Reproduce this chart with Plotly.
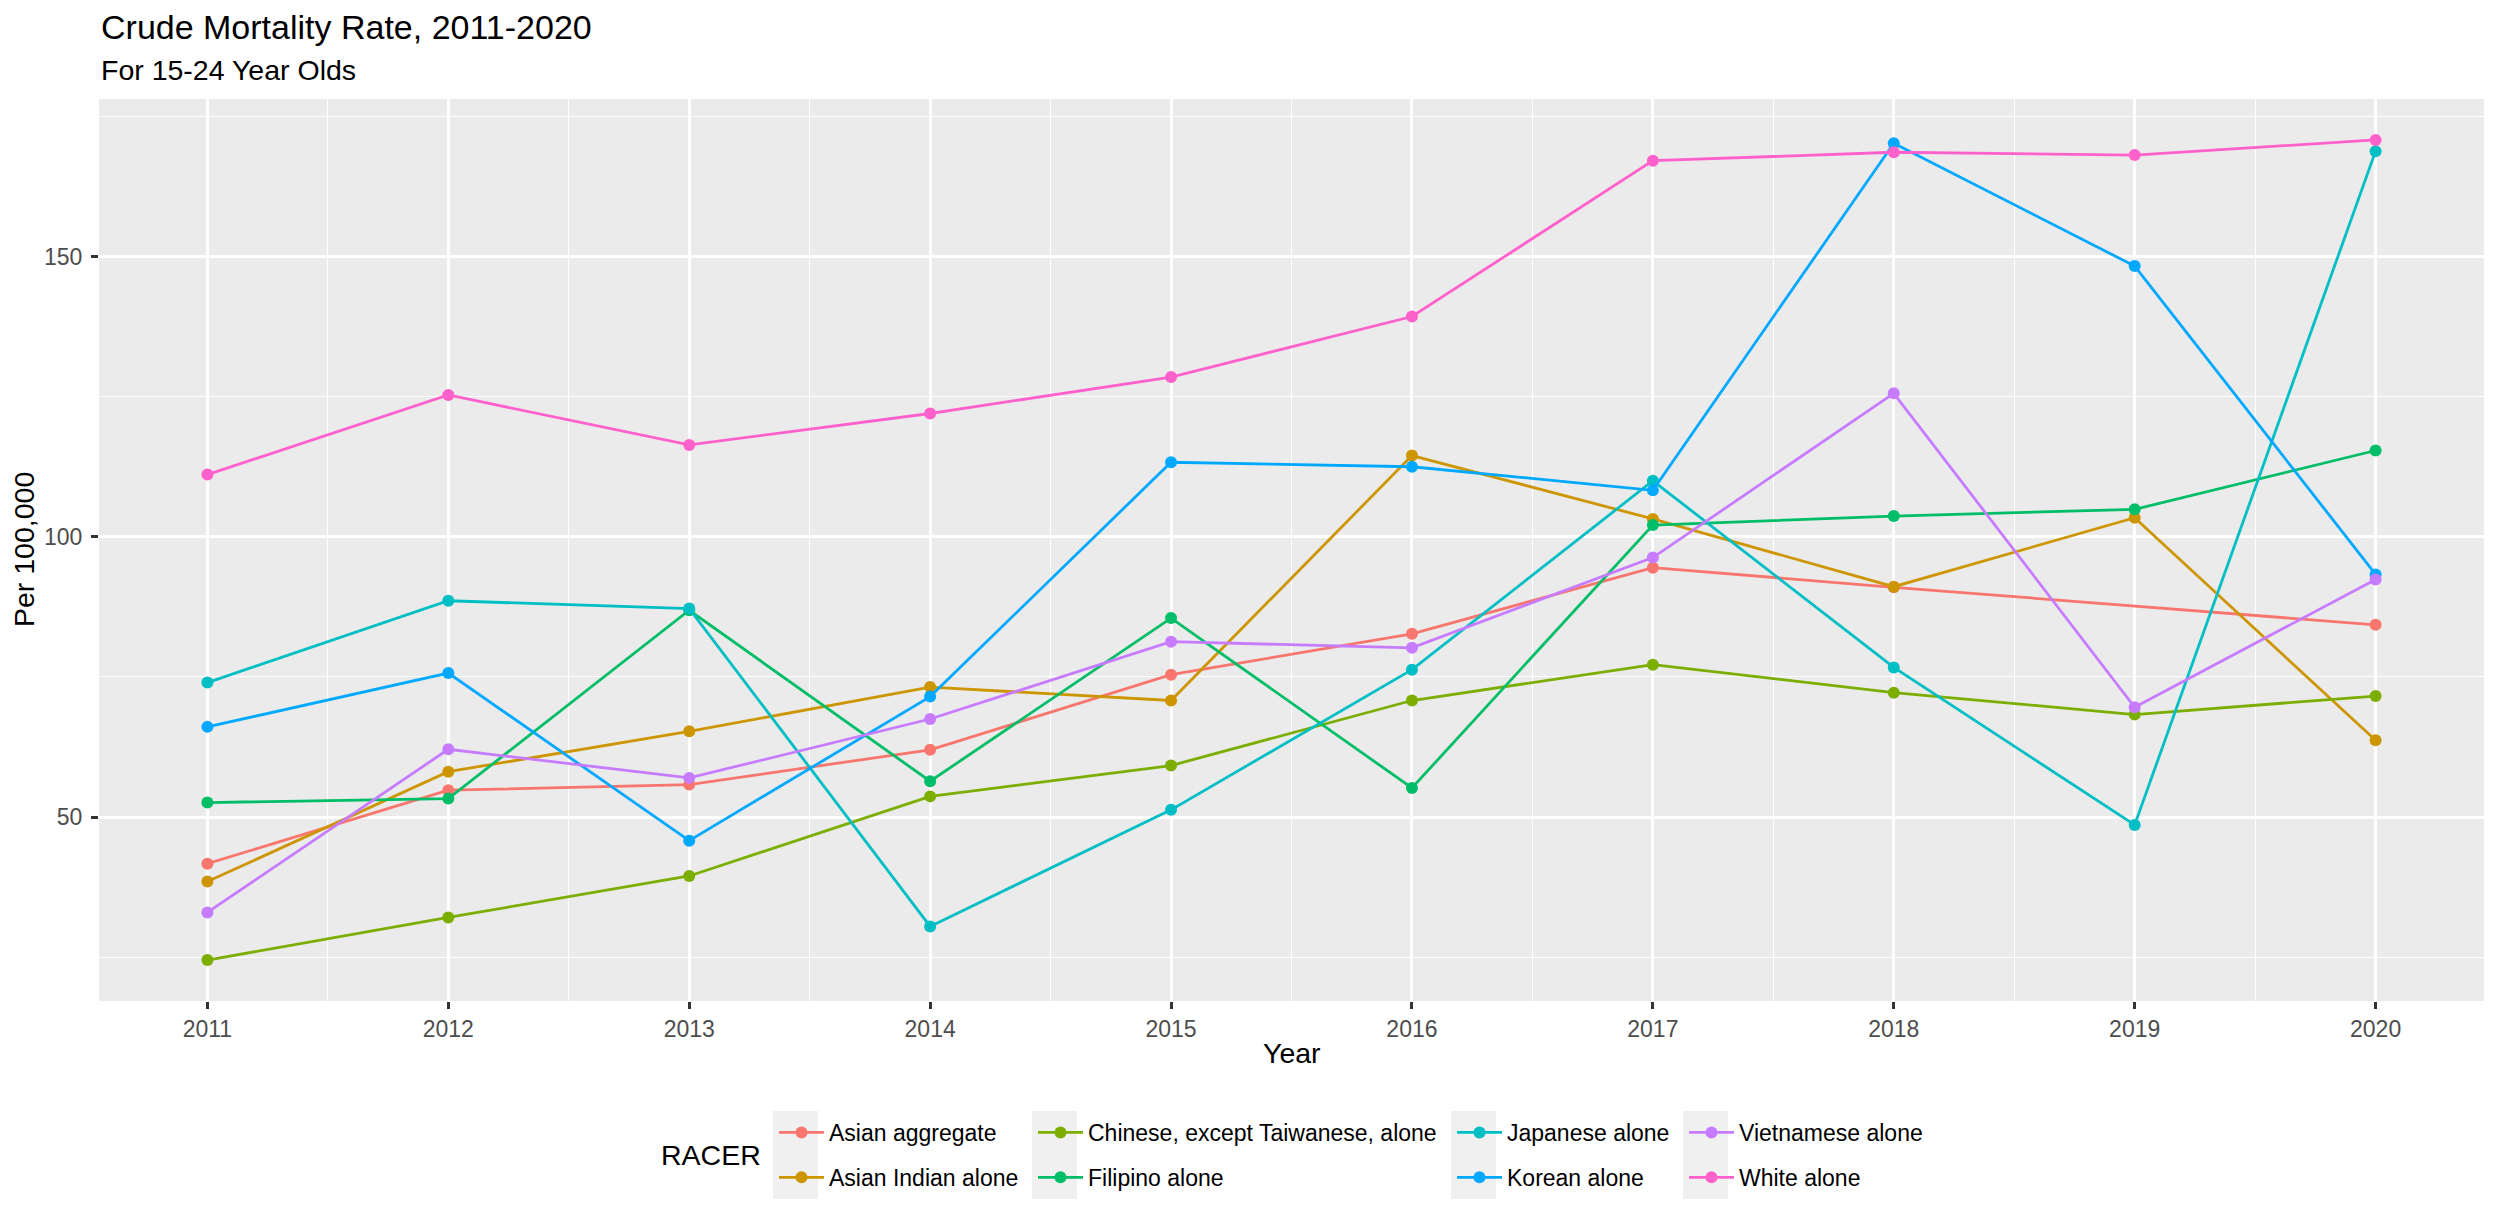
import plotly.graph_objects as go

# ---------------- data ----------------
years = [2011, 2012, 2013, 2014, 2015, 2016, 2017, 2018, 2019, 2020]

asian_aggregate = [41.7, 54.8, 55.8, 62.0, 75.4, 82.7, 94.5, 91.0, None, 84.3]
asian_indian = [38.5, 58.1, 65.3, 73.2, 70.8, 114.5, 103.2, 91.1, 103.4, 63.7]
chinese = [24.5, 32.1, 39.5, 53.7, 59.2, 70.8, 77.2, 72.2, 68.3, 71.6]
filipino = [52.6, 53.3, 86.9, 56.4, 85.5, 55.2, 102.1, 103.7, 104.9, 115.4]
japanese = [74.0, 88.6, 87.2, 30.5, 51.3, 76.3, 110.0, 76.7, 48.6, 168.8]
korean = [66.1, 75.7, 45.8, 71.5, 113.3, 112.5, 108.3, 170.2, 148.3, 93.3]
vietnamese = [33.0, 62.1, 57.0, 67.5, 81.3, 80.2, 96.3, 125.6, 69.6, 92.4]
white = [111.1, 125.3, 116.4, 122.0, 128.5, 139.3, 167.1, 168.6, 168.1, 170.8]

series_names = ["Asian aggregate", "Asian Indian alone",
                "Chinese, except Taiwanese, alone", "Filipino alone",
                "Japanese alone", "Korean alone", "Vietnamese alone", "White alone"]
series_values = [asian_aggregate, asian_indian, chinese, filipino,
                 japanese, korean, vietnamese, white]
colors = ["#F8766D", "#CD9600", "#7CAE00", "#00BE67",
          "#00BFC4", "#00A9FF", "#C77CFF", "#FF61CC"]

x_ticks = [2011, 2012, 2013, 2014, 2015, 2016, 2017, 2018, 2019, 2020]
y_ticks = [50, 100, 150]

# ---------------- layout geometry (pixels) ----------------
W, H = 2500, 1228
PL, PR, PT, PB = 99, 2484, 99, 1001
PW, PH = PR - PL, PB - PT


def px_x(p):
    return (p - PL) / PW


def px_y(p):
    return 1 - (p - PT) / PH


FONT = "Liberation Sans, Arial, Helvetica, sans-serif"

fig = go.Figure()

legend_ids = ["legend", "legend", "legend2", "legend2",
              "legend3", "legend3", "legend4", "legend4"]

for name, vals, col, lg in zip(series_names, series_values, colors, legend_ids):
    fig.add_trace(go.Scatter(
        x=years, y=vals, name=name, mode="lines+markers",
        connectgaps=True,
        line=dict(color=col, width=2.8),
        marker=dict(color=col, size=12),
        legend=lg, legendgroup=name,
    ))

# legend key backgrounds (ggplot-style grey key columns)
key_cols = [773, 1032, 1451, 1683]
key_w = 45
key_top, key_bot = 1111, 1199
shapes = []
for kx in key_cols:
    shapes.append(dict(type="rect", xref="paper", yref="paper",
                       x0=px_x(kx), x1=px_x(kx + key_w),
                       y0=px_y(key_bot), y1=px_y(key_top),
                       fillcolor="#F0F0F0", line=dict(width=0), layer="below"))

legend_common = dict(orientation="v", xanchor="left", yanchor="top",
                     bgcolor="rgba(0,0,0,0)", borderwidth=0,
                     font=dict(family=FONT, size=23, color="#000000"),
                     itemwidth=45, traceorder="grouped", tracegroupgap=12)
legend_top = 1111

layout_legends = {}
for i, kx in enumerate(key_cols):
    key = "legend" if i == 0 else f"legend{i+1}"
    layout_legends[key] = dict(legend_common, x=px_x(kx + 1), y=px_y(legend_top))

annotations = [
    dict(text="Crude Mortality Rate, 2011-2020", xref="paper", yref="paper",
         x=0, y=px_y(27), xanchor="left", yanchor="middle", showarrow=False,
         font=dict(family=FONT, size=34, color="#000000")),
    dict(text="For 15-24 Year Olds", xref="paper", yref="paper",
         x=0, y=px_y(70), xanchor="left", yanchor="middle", showarrow=False,
         font=dict(family=FONT, size=28.5, color="#000000")),
    dict(text="Per 100,000", xref="paper", yref="paper",
         x=px_x(24), y=0.5, xanchor="center", yanchor="middle", textangle=-90,
         showarrow=False, font=dict(family=FONT, size=28.5, color="#000000")),
    dict(text="Year", xref="paper", yref="paper",
         x=0.5, y=px_y(1053), xanchor="center", yanchor="middle",
         showarrow=False, font=dict(family=FONT, size=28.5, color="#000000")),
    dict(text="RACER", xref="paper", yref="paper",
         x=px_x(659), y=px_y(1155), xanchor="left", yanchor="middle",
         showarrow=False, font=dict(family=FONT, size=28.5, color="#000000")),
]

fig.update_layout(
    width=W, height=H,
    margin=dict(l=PL, r=W - PR, t=PT, b=H - PB, pad=0),
    paper_bgcolor="#FFFFFF", plot_bgcolor="#EBEBEB",
    font=dict(family=FONT, color="#000000"),
    showlegend=True,
    shapes=shapes,
    annotations=annotations,
    **layout_legends,
)

fig.update_xaxes(
    range=[2010.55, 2020.45], tickmode="array", tickvals=x_ticks,
    ticktext=[str(t) for t in x_ticks],
    showgrid=True, gridcolor="#FFFFFF", gridwidth=2.8,
    zeroline=False, showline=False,
    ticks="outside", ticklen=7, tickwidth=2.8, tickcolor="#333333",
    tickfont=dict(family=FONT, size=23, color="#4D4D4D"),
    minor=dict(tickmode="array",
               tickvals=[2011.5, 2012.5, 2013.5, 2014.5, 2015.5,
                         2016.5, 2017.5, 2018.5, 2019.5],
               showgrid=True, gridcolor="#FFFFFF", gridwidth=1.4, ticks=""),
    fixedrange=True,
)
fig.update_yaxes(
    range=[17.2, 178.1], tickmode="array", tickvals=y_ticks,
    ticktext=[str(t) for t in y_ticks],
    showgrid=True, gridcolor="#FFFFFF", gridwidth=2.8,
    zeroline=False, showline=False,
    ticks="outside", ticklen=7, tickwidth=2.8, tickcolor="#333333",
    tickfont=dict(family=FONT, size=23, color="#4D4D4D"),
    ticklabelstandoff=4,
    minor=dict(tickmode="array", tickvals=[25, 75, 125, 175],
               showgrid=True, gridcolor="#FFFFFF", gridwidth=1.4, ticks=""),
    fixedrange=True,
)

fig.write_html("out.html", config={"displayModeBar": False},
               post_script="document.body.style.margin='0';")
